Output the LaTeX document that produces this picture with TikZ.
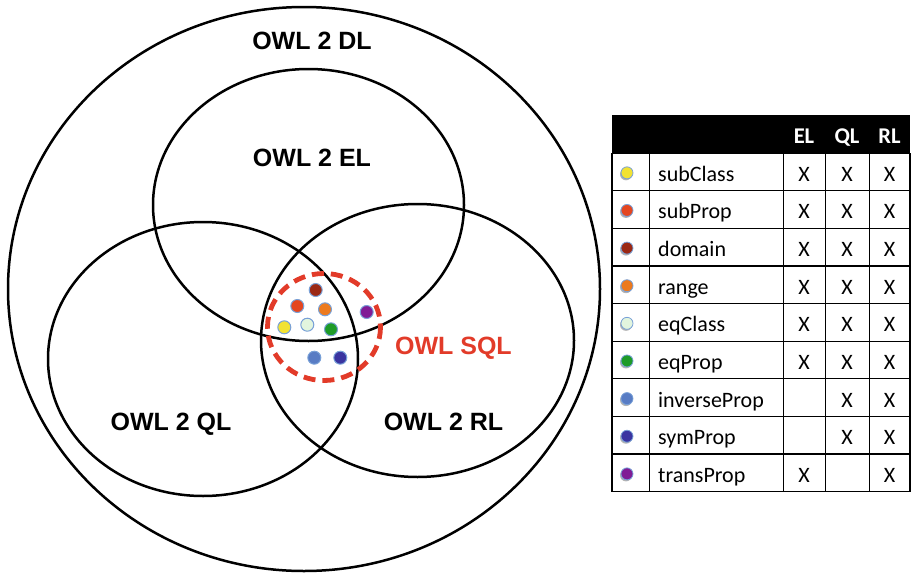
\documentclass[tikz,border=0pt]{standalone}
\usepackage{fontspec}
\setmainfont{Liberation Sans}
\newfontfamily\tabfont{Carlito}
\usepackage{xcolor}
\usetikzlibrary{shadows}

\definecolor{sqlred}{RGB}{226,59,41}
\definecolor{dotrim}{RGB}{120,160,215}
\definecolor{cSubClass}{RGB}{242,226,50}
\definecolor{cSubProp}{RGB}{228,70,32}
\definecolor{cDomain}{RGB}{155,40,20}
\definecolor{cRange}{RGB}{236,122,30}
\definecolor{cEqClass}{RGB}{226,245,222}
\definecolor{cEqProp}{RGB}{30,155,40}
\definecolor{cInverse}{RGB}{88,124,196}
\definecolor{cSym}{RGB}{58,52,160}
\definecolor{cTrans}{RGB}{128,28,150}

\begin{document}
\begin{tikzpicture}[x=1pt,y=-1pt,
    venn/.style={line width=2.5pt},
    owl/.style={anchor=base,font=\bfseries\fontsize{25}{30}\selectfont},
    dot/.style={circle,draw=dotrim,line width=1pt,minimum size=13pt,inner sep=0pt},
    keydot/.style={circle,draw=dotrim,line width=0.8pt,minimum size=12pt,inner sep=0pt,
        drop shadow={shadow xshift=-1pt,shadow yshift=-1.5pt,opacity=0.6}},
    cell/.style={font=\tabfont\fontsize{22}{26}\selectfont,inner sep=0pt},
    head/.style={font=\tabfont\bfseries\fontsize{22.5}{26}\selectfont,text=white,anchor=base,inner sep=0pt}]
\useasboundingbox (0,0) rectangle (911,573);

% the profiles
\draw[venn] (304,289) ellipse (296 and 282);
\draw[venn] (308.5,205) ellipse (155.5 and 136);
\draw[venn] (203,359) ellipse (155 and 137);
\draw[venn] (417.5,340.5) ellipse (156.5 and 136.5);
\node[owl] (dl) at (312,49.3) {OWL 2 DL};
\node[owl] (el) at (312,166.7) {OWL 2 EL};
\node[owl] (ql) at (171,430.7) {OWL 2 QL};
\node[owl] (rl) at (443.5,430.7) {OWL 2 RL};

% owl sql
\draw[sqlred,line width=4.8pt,dash pattern=on 12pt off 7pt] (324,327) ellipse (56.5 and 53.5);
\node[owl,text=sqlred] (sql) at (453.4,354) {OWL SQL};

\node[dot,fill=cDomain] (p-domain) at (315.7,290) {};
\node[dot,fill=cSubProp] (p-subprop) at (297.3,306) {};
\node[dot,fill=cRange] (p-range) at (325,309.3) {};
\node[dot,fill=cTrans] (p-trans) at (366.7,312) {};
\node[dot,fill=cSubClass] (p-subclass) at (284.3,327.3) {};
\node[dot,fill=cEqClass] (p-eqclass) at (307.3,324.7) {};
\node[dot,fill=cEqProp] (p-eqprop) at (331,329.3) {};
\node[dot,fill=cInverse] (p-inverse) at (314.3,357.7) {};
\node[dot,fill=cSym] (p-sym) at (340.3,357.7) {};

% table
\fill (612,115) rectangle (910,153);
\node[head] (h-el) at (804,143.3) {EL};
\node[head] (h-ql) at (847,143.3) {QL};
\node[head] (h-rl) at (889.5,143.3) {RL};
\foreach \k in {0,...,9}
    \draw[line width=1.3pt] (612,153+37.63*\k) -- (910,153+37.63*\k);
\foreach \xx in {612,649.3,783.3,825.5,869.3,910}
    \draw[line width=1.3pt] (\xx,153) -- (\xx,491.7);
\foreach \nm/\col/\e/\q/\r [count=\i] in {subClass/cSubClass/X/X/X,
        subProp/cSubProp/X/X/X, domain/cDomain/X/X/X, range/cRange/X/X/X,
        eqClass/cEqClass/X/X/X, eqProp/cEqProp/X/X/X,
        inverseProp/cInverse/{}/X/X, symProp/cSym/{}/X/X, transProp/cTrans/X/{}/X}{
    \pgfmathsetmacro\yc{153+37.63*(\i-0.5)}
    \node[keydot,fill=\col] (k-\i) at (627,\yc+1) {};
    \node[cell,anchor=base west] (n-\i) at (658,\yc+9.5) {\nm};
    \node[cell,anchor=base] (e-\i) at (804,\yc+9.5) {\e};
    \node[cell,anchor=base] (q-\i) at (847,\yc+9.5) {\q};
    \node[cell,anchor=base] (r-\i) at (889.5,\yc+9.5) {\r};
}
\end{tikzpicture}
\end{document}
